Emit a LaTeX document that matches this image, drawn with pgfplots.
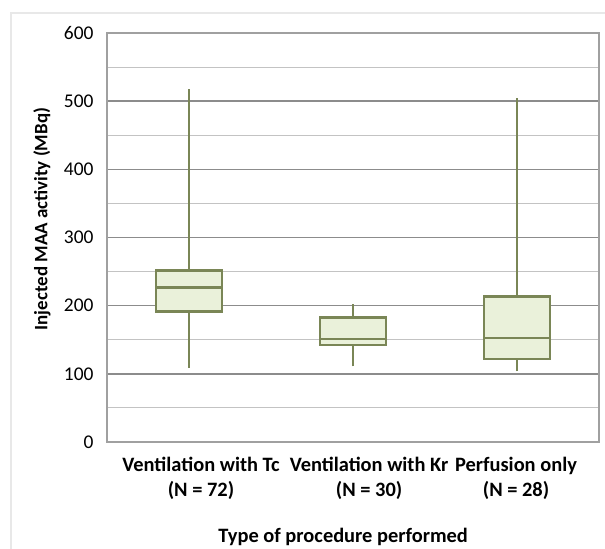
\documentclass[border=0pt]{standalone}
\usepackage{pgfplots}
\pgfplotsset{compat=1.18}
\usepackage{fontspec}
\setmainfont{Carlito}
\definecolor{boxedge}{RGB}{122,134,86}
\definecolor{boxfill}{RGB}{234,241,218}
\definecolor{majgrid}{RGB}{140,140,140}
\definecolor{mingrid}{RGB}{195,195,195}
\definecolor{frame}{RGB}{160,160,160}
\begin{document}
\begin{tikzpicture}
\begin{axis}[
  at={(107bp,107bp)}, anchor=south west,
  scale only axis, width=492bp, height=409bp,
  xmin=-0.5, xmax=2.5, ymin=0, ymax=600,
  xtick={0.073,1.098,1.994},
  xticklabels={{Ventilation with Tc\\(N = 72)},{Ventilation with Kr\\(N = 30)},{Perfusion only\\(N = 28)}},
  xticklabel style={align=center, font=\fontsize{20.5}{25}\selectfont\bfseries, text=black, yshift=-12bp},
  ytick={0,100,200,300,400,500,600},
  minor ytick={50,150,250,350,450,550},
  ymajorgrids, yminorgrids,
  major grid style={draw=majgrid, line width=1.4bp},
  minor grid style={draw=mingrid, line width=1.1bp},
  tick style={draw=none},
  /pgf/number format/assume math mode=true,
  yticklabel style={font=\fontsize{19.5}{22}\selectfont, text=black, xshift=-10bp},
  axis line style={draw=frame, line width=1.3bp},
  xlabel={Type of procedure performed},
  xlabel style={font=\fontsize{20.5}{22}\selectfont\bfseries, at={(axis description cs:0.48,-0.232)}, anchor=center},
  ylabel={Injected MAA activity (MBq)},
  ylabel style={font=\fontsize{19}{22}\selectfont\bfseries, at={(axis description cs:-0.132,0.545)}, anchor=center},
  bx/.style={draw=boxedge, line width=2.3bp, mark=none, solid},
  wk/.style={draw=boxedge, line width=1.8bp, mark=none, solid},
]
% Box 1: Ventilation with Tc
\addplot[wk] coordinates {(0,109) (0,191.6)};
\addplot[wk] coordinates {(0,251.8) (0,518)};
\addplot[bx, fill=boxfill] coordinates {(-0.2,191.6) (0.2,191.6) (0.2,251.8) (-0.2,251.8)} -- cycle;
\addplot[bx] coordinates {(-0.2,226.8) (0.2,226.8)};
% Box 2: Ventilation with Kr
\addplot[wk] coordinates {(1,111) (1,142.8)};
\addplot[wk] coordinates {(1,182.8) (1,203)};
\addplot[bx, fill=boxfill] coordinates {(0.8,142.8) (1.2,142.8) (1.2,182.8) (0.8,182.8)} -- cycle;
\addplot[bx] coordinates {(0.8,150.6) (1.2,150.6)};
% Box 3: Perfusion only
\addplot[wk] coordinates {(2,104) (2,121.7)};
\addplot[wk] coordinates {(2,213.6) (2,505)};
\addplot[bx, fill=boxfill] coordinates {(1.8,121.7) (2.2,121.7) (2.2,213.6) (1.8,213.6)} -- cycle;
\addplot[bx] coordinates {(1.8,153) (2.2,153)};
\end{axis}
\draw[gray!18, line width=1.5bp] (11bp,-5bp) -- (11bp,536bp) -- (615bp,536bp);
\pgfresetboundingbox
\path[use as bounding box] (0,0) rectangle (605bp,549bp);
\end{tikzpicture}
\end{document}
